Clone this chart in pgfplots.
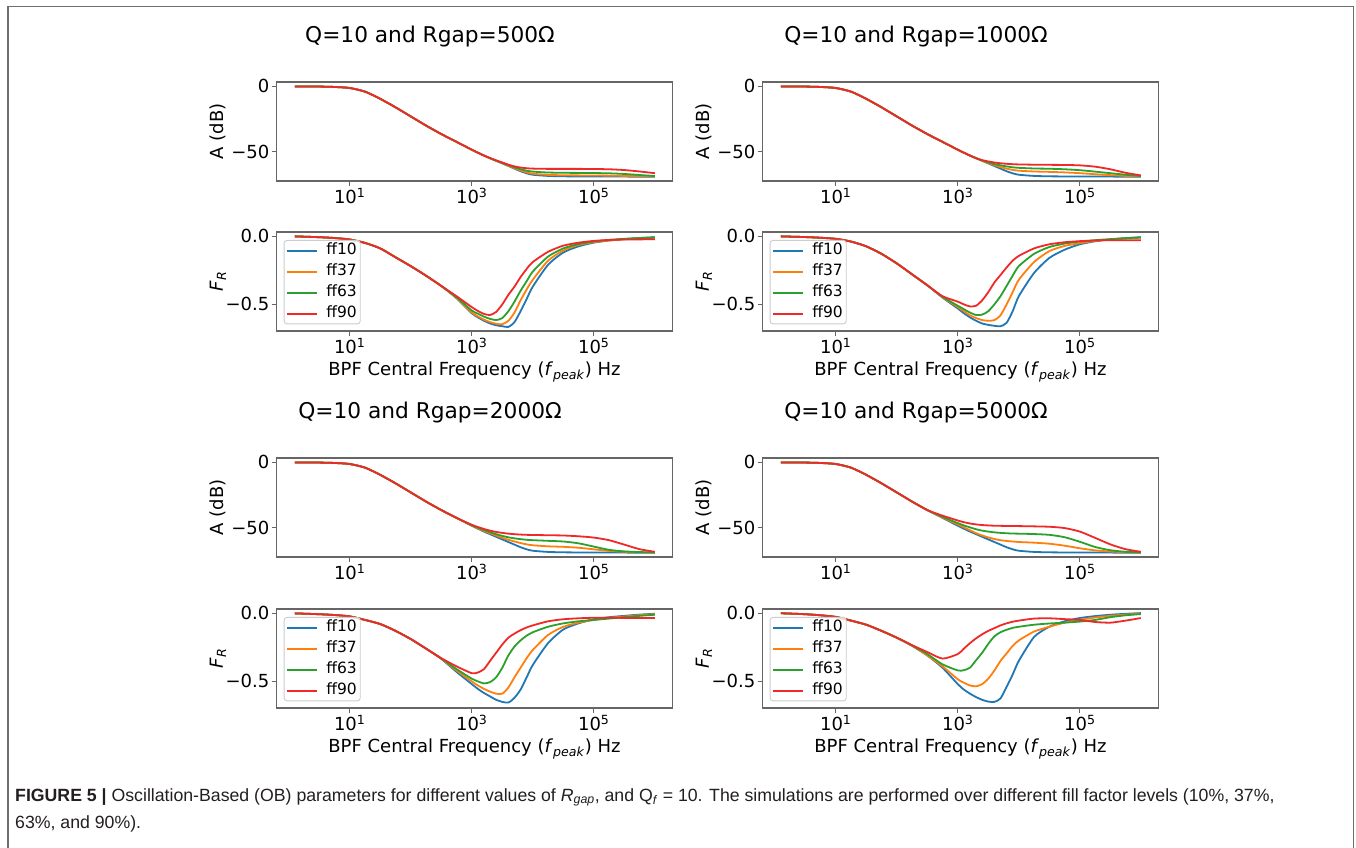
\documentclass[border=0pt]{standalone}
\usepackage{fontspec}
\setmainfont{DejaVu Sans}
\newfontfamily\capfont{Liberation Sans}
\usepackage{pgfplots}
\usepackage{pgfplotstable}
\pgfplotsset{compat=1.18}

\definecolor{cb}{HTML}{1F77B4}
\definecolor{co}{HTML}{FF7F0E}
\definecolor{cg}{HTML}{2CA02C}
\definecolor{cr}{HTML}{F02828}
\definecolor{spine}{HTML}{666666}
\definecolor{legedge}{HTML}{CCCCCC}
\definecolor{framec}{HTML}{6E6E6E}
\definecolor{captxt}{HTML}{231F20}

\newcommand\ten[1]{10\textsuperscript{#1}}

% ---------------- data: f (Hz), ff10, ff37, ff63, ff90 ----------------
\pgfplotstableread{
f b o g r
1.26 0 0 0 0
3.16 -0.1 -0.1 -0.1 -0.1
5.62 -0.4 -0.4 -0.4 -0.4
10 -1.2 -1.2 -1.2 -1.2
17.8 -4 -4 -4 -4
31.6 -9.5 -9.5 -9.5 -9.5
56.2 -16 -16 -16 -16
100 -23 -23 -23 -23
178 -30 -30 -30 -30
316 -36.5 -36.5 -36.5 -36.5
562 -42.5 -42.5 -42.5 -42.5
1000 -48.5 -48.5 -48.5 -48.5
1259 -50.8 -50.8 -50.8 -50.8
1585 -53 -53 -53 -53
1995 -55 -55 -55 -55
2512 -57 -57 -56.9 -56.7
3162 -59 -58.8 -58.6 -58.3
3981 -61 -60.8 -60.3 -60
5012 -63 -62.6 -62 -61.3
6310 -65 -64.4 -63.5 -62.2
7943 -66.6 -65.9 -64.6 -62.7
10000 -67.7 -66.9 -65.3 -63
17783 -68.6 -67.8 -66 -63.2
31623 -68.9 -68.1 -66.2 -63.2
56234 -69 -68.2 -66.3 -63.2
100000 -69 -68.3 -66.4 -63.3
177828 -69 -68.4 -66.6 -63.5
316228 -69.1 -68.6 -67.1 -64.1
562341 -69.2 -68.8 -67.9 -65.2
1000000 -69.2 -69 -68.7 -66.5
}\tlA

\pgfplotstableread{
f b o g r
1.26 -0.002 -0.002 -0.002 -0.002
3.16 -0.008 -0.008 -0.008 -0.008
5.62 -0.014 -0.014 -0.014 -0.014
10 -0.025 -0.025 -0.025 -0.025
17.8 -0.05 -0.05 -0.05 -0.05
31.6 -0.09 -0.09 -0.09 -0.09
56.2 -0.155 -0.155 -0.155 -0.155
100 -0.22 -0.22 -0.22 -0.22
178 -0.29 -0.29 -0.29 -0.29
316 -0.365 -0.365 -0.365 -0.365
562 -0.455 -0.452 -0.448 -0.44
1000 -0.565 -0.56 -0.545 -0.52
1259 -0.595 -0.588 -0.568 -0.548
1585 -0.62 -0.612 -0.59 -0.57
1995 -0.64 -0.63 -0.606 -0.578
2512 -0.653 -0.642 -0.615 -0.555
3162 -0.66 -0.645 -0.60 -0.50
3981 -0.665 -0.62 -0.55 -0.43
5012 -0.63 -0.56 -0.48 -0.37
6310 -0.55 -0.47 -0.40 -0.30
7943 -0.46 -0.39 -0.33 -0.24
10000 -0.37 -0.32 -0.26 -0.19
17783 -0.21 -0.18 -0.15 -0.115
31623 -0.12 -0.105 -0.09 -0.07
56234 -0.075 -0.065 -0.058 -0.048
100000 -0.048 -0.045 -0.04 -0.035
177828 -0.032 -0.032 -0.028 -0.028
316228 -0.022 -0.024 -0.02 -0.025
562341 -0.014 -0.017 -0.014 -0.024
1000000 -0.008 -0.012 -0.01 -0.023
}\tlF

\pgfplotstableread{
f b o g r
1.26 0 0 0 0
3.16 -0.1 -0.1 -0.1 -0.1
5.62 -0.4 -0.4 -0.4 -0.4
10 -1.2 -1.2 -1.2 -1.2
17.8 -4 -4 -4 -4
31.6 -9.5 -9.5 -9.5 -9.5
56.2 -16 -16 -16 -16
100 -23 -23 -23 -23
178 -30 -30 -30 -30
316 -36.5 -36.5 -36.5 -36.5
562 -42.5 -42.5 -42.5 -42.5
1000 -48.5 -48.5 -48.5 -48.5
1259 -50.8 -50.8 -50.8 -50.8
1585 -53 -53 -53 -53
1995 -55 -55 -55 -55
2512 -57 -57 -56.8 -56.5
3162 -59 -58.7 -58.3 -57.5
3981 -61 -60.3 -59.5 -58.3
5012 -63 -61.8 -60.5 -58.9
6310 -65 -63 -61.3 -59.3
7943 -66.6 -64 -62 -59.6
10000 -67.7 -64.6 -62.4 -59.8
17783 -68.6 -65.2 -62.9 -60
31623 -68.9 -65.5 -63.1 -60.1
56234 -69 -65.9 -63.5 -60.2
100000 -69 -66.5 -64.2 -60.5
177828 -69 -67.3 -65.3 -61.5
316228 -69.1 -68 -66.5 -63.5
562341 -69.2 -68.6 -67.7 -66.2
1000000 -69.2 -69 -68.7 -68.2
}\trA

\pgfplotstableread{
f b o g r
1.26 -0.002 -0.002 -0.002 -0.002
3.16 -0.007 -0.007 -0.007 -0.007
5.62 -0.012 -0.012 -0.012 -0.012
10 -0.02 -0.02 -0.02 -0.02
17.8 -0.04 -0.04 -0.04 -0.04
31.6 -0.075 -0.075 -0.075 -0.075
56.2 -0.13 -0.13 -0.13 -0.13
100 -0.2 -0.2 -0.2 -0.2
178 -0.28 -0.28 -0.28 -0.28
316 -0.36 -0.36 -0.36 -0.36
562 -0.45 -0.447 -0.445 -0.44
1000 -0.53 -0.52 -0.51 -0.48
1259 -0.565 -0.55 -0.535 -0.50
1585 -0.595 -0.58 -0.56 -0.515
1995 -0.62 -0.60 -0.578 -0.51
2512 -0.64 -0.615 -0.575 -0.47
3162 -0.65 -0.62 -0.55 -0.41
3981 -0.657 -0.615 -0.50 -0.34
5012 -0.66 -0.58 -0.44 -0.285
6310 -0.635 -0.50 -0.365 -0.23
7943 -0.55 -0.41 -0.29 -0.18
10000 -0.44 -0.32 -0.22 -0.145
17783 -0.27 -0.19 -0.13 -0.09
31623 -0.16 -0.11 -0.08 -0.06
56234 -0.10 -0.072 -0.055 -0.045
100000 -0.06 -0.052 -0.04 -0.037
177828 -0.038 -0.035 -0.03 -0.032
316228 -0.025 -0.025 -0.022 -0.03
562341 -0.015 -0.017 -0.015 -0.03
1000000 -0.008 -0.012 -0.01 -0.03
}\trF

\pgfplotstableread{
f b o g r
1.26 0 0 0 0
3.16 -0.1 -0.1 -0.1 -0.1
5.62 -0.4 -0.4 -0.4 -0.4
10 -1.2 -1.2 -1.2 -1.2
17.8 -4 -4 -4 -4
31.6 -9.5 -9.5 -9.5 -9.5
56.2 -16 -16 -16 -16
100 -23 -23 -23 -23
178 -30 -30 -30 -30
316 -36.5 -36.5 -36.5 -36.5
562 -42.5 -42.5 -42.5 -42.5
1000 -48.5 -48.4 -48.2 -47.8
1259 -50.8 -50.5 -50 -49.5
1585 -53 -52.5 -51.8 -51
1995 -55 -54.3 -53.5 -52.3
2512 -57 -56 -55 -53.3
3162 -59 -57.8 -56.3 -54
3981 -61 -59.3 -57.4 -54.6
5012 -63 -60.6 -58.2 -55
6310 -65 -61.8 -58.8 -55.3
7943 -66.6 -62.8 -59.3 -55.5
10000 -67.7 -63.5 -59.6 -55.6
17783 -68.6 -64.3 -60.1 -55.8
31623 -68.9 -64.7 -60.6 -56
56234 -69 -65.4 -62 -56.6
100000 -69 -66.6 -64.5 -57.6
177828 -69 -67.8 -67 -59.6
316228 -69.1 -68.5 -68.2 -63
562341 -69.2 -68.9 -68.7 -66.5
1000000 -69.2 -69.1 -69 -68.5
}\blA

\pgfplotstableread{
f b o g r
1.26 -0.002 -0.002 -0.002 -0.002
3.16 -0.008 -0.008 -0.008 -0.008
5.62 -0.014 -0.014 -0.014 -0.014
10 -0.024 -0.024 -0.024 -0.024
17.8 -0.05 -0.05 -0.05 -0.05
31.6 -0.08 -0.08 -0.08 -0.08
56.2 -0.13 -0.13 -0.13 -0.13
100 -0.19 -0.19 -0.19 -0.19
178 -0.26 -0.26 -0.26 -0.26
316 -0.335 -0.333 -0.332 -0.33
562 -0.43 -0.42 -0.41 -0.39
1000 -0.52 -0.50 -0.48 -0.44
1259 -0.555 -0.53 -0.50 -0.435
1585 -0.585 -0.555 -0.515 -0.41
1995 -0.61 -0.575 -0.505 -0.35
2512 -0.635 -0.59 -0.47 -0.29
3162 -0.65 -0.59 -0.40 -0.23
3981 -0.655 -0.545 -0.31 -0.18
5012 -0.62 -0.47 -0.245 -0.15
6310 -0.56 -0.40 -0.20 -0.125
7943 -0.47 -0.33 -0.165 -0.105
10000 -0.38 -0.27 -0.14 -0.09
17783 -0.22 -0.16 -0.10 -0.06
31623 -0.12 -0.10 -0.075 -0.045
56234 -0.075 -0.07 -0.06 -0.038
100000 -0.045 -0.05 -0.05 -0.034
177828 -0.03 -0.035 -0.04 -0.034
316228 -0.02 -0.025 -0.03 -0.035
562341 -0.011 -0.015 -0.02 -0.036
1000000 -0.005 -0.008 -0.012 -0.036
}\blF

\pgfplotstableread{
f b o g r
1.26 0 0 0 0
3.16 -0.1 -0.1 -0.1 -0.1
5.62 -0.4 -0.4 -0.4 -0.4
10 -1.2 -1.2 -1.2 -1.2
17.8 -4 -4 -4 -4
31.6 -9.5 -9.5 -9.5 -9.5
56.2 -16 -16 -16 -16
100 -23 -23 -23 -23
178 -30 -30 -30 -30
316 -36.5 -36.5 -36.5 -36.5
562 -42.5 -42.2 -41.7 -40.8
1000 -48.5 -47.5 -46.5 -44.5
1259 -50.8 -49.8 -48.3 -45.8
1585 -53 -52 -49.8 -46.8
1995 -55 -54.2 -51.2 -47.5
2512 -57 -56 -52.3 -48
3162 -59 -57.5 -53 -48.3
3981 -61 -58.7 -53.6 -48.5
5012 -63 -59.6 -54 -48.6
6310 -65 -60.2 -54.3 -48.7
7943 -66.6 -60.6 -54.5 -48.8
10000 -67.7 -61 -54.6 -48.8
17783 -68.6 -61.5 -54.9 -49
31623 -68.9 -62.3 -55.5 -49.3
56234 -69 -63.8 -57.3 -50.3
100000 -69 -65.8 -60.8 -53
177828 -69 -67.4 -64.8 -57.8
316228 -69.1 -68.3 -67.3 -62.8
562341 -69.2 -68.8 -68.5 -66.5
1000000 -69.2 -69.1 -69 -68.5
}\brA

\pgfplotstableread{
f b o g r
1.26 -0.001 -0.001 -0.001 -0.001
3.16 -0.008 -0.008 -0.008 -0.008
5.62 -0.016 -0.016 -0.016 -0.016
10 -0.028 -0.028 -0.028 -0.028
17.8 -0.055 -0.055 -0.055 -0.055
31.6 -0.085 -0.085 -0.085 -0.085
56.2 -0.13 -0.13 -0.13 -0.13
100 -0.18 -0.18 -0.18 -0.18
178 -0.24 -0.238 -0.236 -0.235
316 -0.31 -0.31 -0.30 -0.285
562 -0.40 -0.39 -0.375 -0.333
1000 -0.52 -0.485 -0.42 -0.30
1259 -0.56 -0.51 -0.418 -0.26
1585 -0.59 -0.53 -0.40 -0.22
1995 -0.615 -0.536 -0.345 -0.185
2512 -0.635 -0.52 -0.29 -0.155
3162 -0.648 -0.48 -0.225 -0.13
3981 -0.65 -0.42 -0.17 -0.11
5012 -0.625 -0.35 -0.14 -0.09
6310 -0.54 -0.295 -0.122 -0.075
7943 -0.45 -0.24 -0.108 -0.063
10000 -0.35 -0.2 -0.10 -0.055
17783 -0.175 -0.135 -0.085 -0.04
31623 -0.10 -0.10 -0.076 -0.038
56234 -0.06 -0.07 -0.07 -0.044
100000 -0.036 -0.048 -0.062 -0.05
177828 -0.022 -0.032 -0.05 -0.065
316228 -0.012 -0.02 -0.03 -0.07
562341 -0.005 -0.011 -0.016 -0.055
1000000 0 -0.005 -0.007 -0.036
}\brF

\pgfplotsset{
  every axis/.append style={
    scale only axis, width=396pt, height=99pt,
    xmin=0.63, xmax=1.95e6,
    xtick={10,1000,100000}, xticklabels={\ten{1},\ten{3},\ten{5}},
    xminorticks=false, yminorticks=false,
    tick align=outside, tick pos=left,
    major tick length=5pt,
    tick style={draw=spine, line width=1.1pt},
    axis line style={draw=spine, line width=1.3pt},
    ticklabel style={font=\fontsize{18}{21}\selectfont, text=black, inner sep=2pt},
    label style={font=\fontsize{18}{21}\selectfont},
    ylabel style={at={(axis description cs:-0.148,0.5)}, anchor=center},
  },
  every axis plot/.append style={line width=1.8pt, line join=round, mark=none, smooth, tension=0.4},
  Alim/.style={ymin=-72.5, ymax=3.4, ytick={-50,0}, yticklabels={−50,0},
    ylabel={A (dB)}},
  Flim/.style={ymin=-0.695, ymax=0.03, ytick={-0.5,0}, yticklabels={−0.5,0.0},
    ylabel={\textit{F}\textsubscript{\textit{R}}},
    xlabel={BPF Central Frequency (\textit{f}\textsubscript{\textit{peak}}) Hz},
    xlabel style={at={(axis description cs:0.5,0)}, anchor=base, yshift=-44.7pt},
    legend cell align=left,
    legend image code/.code={\draw[##1] (0pt,0pt) -- (30pt,0pt);},
    legend style={at={(0.018,0.92)}, anchor=north west, draw=legedge, line width=0.9pt,
      rounded corners=3pt, fill=white, fill opacity=0.8, text opacity=1,
      font=\fontsize{15.5}{18}\selectfont, inner xsep=2pt, inner ysep=2pt, row sep=4.5pt,
      nodes={font=\fontsize{15.5}{18}\selectfont, inner sep=1.5pt, text height=10.5pt, text depth=3pt},
      /tikz/every odd column/.append style={column sep=7pt}},
  },
}

\newcommand\fourplots[1]{%
  \addplot[cb] table[x=f,y=b]{#1};
  \addplot[co] table[x=f,y=o]{#1};
  \addplot[cg] table[x=f,y=g]{#1};
  \addplot[cr] table[x=f,y=r]{#1};
}

\begin{document}
\begin{tikzpicture}
\useasboundingbox (0,0) rectangle (1356pt,-847pt);
\fill[white] (0,0) rectangle (1356pt,-847pt);
\draw[framec, line width=1.5pt] (8pt,-850pt) -- (8pt,-6.5pt) -- (1353.5pt,-6.5pt) -- (1353.5pt,-850pt);

% titles
\node[anchor=base, font=\fontsize{21.7}{25}\selectfont] at (430pt,-42pt) {Q=10 and Rgap=500Ω};
\node[anchor=base, font=\fontsize{21.7}{25}\selectfont] at (916pt,-42pt) {Q=10 and Rgap=1000Ω};
\node[anchor=base, font=\fontsize{21.7}{25}\selectfont] at (430pt,-418pt) {Q=10 and Rgap=2000Ω};
\node[anchor=base, font=\fontsize{21.7}{25}\selectfont] at (916pt,-418pt) {Q=10 and Rgap=5000Ω};

% top-left
\begin{axis}[xmode=log, Alim, at={(276.5pt,-82pt)}, anchor=north west]
\fourplots{\tlA}
\end{axis}
\begin{axis}[xmode=log, Flim, at={(276.5pt,-232pt)}, anchor=north west]
\fourplots{\tlF}
\legend{ff10,ff37,ff63,ff90}
\end{axis}
% top-right
\begin{axis}[xmode=log, Alim, at={(762.5pt,-82pt)}, anchor=north west]
\fourplots{\trA}
\end{axis}
\begin{axis}[xmode=log, Flim, at={(762.5pt,-232pt)}, anchor=north west]
\fourplots{\trF}
\legend{ff10,ff37,ff63,ff90}
\end{axis}
% bottom-left
\begin{axis}[xmode=log, Alim, at={(276.5pt,-458pt)}, anchor=north west]
\fourplots{\blA}
\end{axis}
\begin{axis}[xmode=log, Flim, at={(276.5pt,-609pt)}, anchor=north west]
\fourplots{\blF}
\legend{ff10,ff37,ff63,ff90}
\end{axis}
% bottom-right
\begin{axis}[xmode=log, Alim, at={(762.5pt,-458pt)}, anchor=north west]
\fourplots{\brA}
\end{axis}
\begin{axis}[xmode=log, Flim, at={(762.5pt,-609pt)}, anchor=north west]
\fourplots{\brF}
\legend{ff10,ff37,ff63,ff90}
\end{axis}

% caption
\node[anchor=base west, text=captxt, font=\capfont\fontsize{17.7}{20}\selectfont, inner sep=0pt] at (15pt,-801pt)
  {\textbf{FIGURE 5 |} Oscillation-Based (OB) parameters for different values of \textit{R}\textsubscript{\textit{gap}}, and Q\textsubscript{\textit{f}} = 10. The simulations are performed over different fill factor levels (10\%, 37\%,};
\node[anchor=base west, text=captxt, font=\capfont\fontsize{17.7}{20}\selectfont, inner sep=0pt] at (15pt,-828pt)
  {63\%, and 90\%).};
\end{tikzpicture}
\end{document}
